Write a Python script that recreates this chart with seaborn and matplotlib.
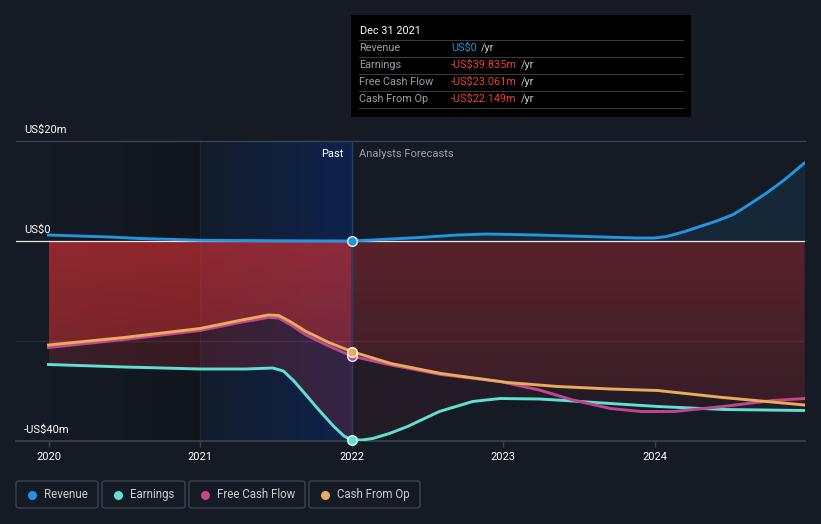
import numpy as np
import pandas as pd
import matplotlib
matplotlib.use("Agg")
import matplotlib.pyplot as plt
import seaborn as sns
from matplotlib.patches import FancyBboxPatch, Rectangle
from matplotlib.lines import Line2D

plt.rcParams['font.family'] = ['Roboto', 'DejaVu Sans']

# ---------------- data (US$ m, decimal years) ----------------
rev_t = [2020.0, 2020.4, 2020.6, 2021.0, 2021.5, 2022.0, 2022.2, 2022.45, 2022.7, 2022.89,
         2023.22, 2023.55, 2023.88, 2024.0, 2024.08, 2024.19, 2024.3, 2024.41, 2024.52,
         2024.63, 2024.74, 2024.86, 2024.99]
rev_v = [1.2, 0.8, 0.5, 0.15, 0.05, 0.0, 0.3, 0.7, 1.2, 1.4,
         1.2, 0.9, 0.6, 0.6, 0.9, 1.8, 2.9, 4.0, 5.3,
         7.4, 9.6, 12.3, 15.6]

earn_t = [2020.0, 2020.5, 2021.0, 2021.3, 2021.48, 2021.55, 2021.62, 2021.70, 2021.77,
          2021.88, 2021.95, 2022.0, 2022.07, 2022.14, 2022.25, 2022.37, 2022.58, 2022.80,
          2022.98, 2023.24, 2023.46, 2023.71, 2024.02, 2024.46, 2024.99]
earn_v = [-24.7, -25.2, -25.6, -25.6, -25.4, -26.0, -28.0, -30.8, -33.3,
          -37.0, -39.0, -39.8, -39.8, -39.5, -38.5, -37.1, -34.1, -32.1,
          -31.5, -31.6, -32.0, -32.5, -33.1, -33.7, -33.9]

fcf_t = [2020.0, 2020.5, 2021.0, 2021.26, 2021.45, 2021.52, 2021.6, 2021.7, 2021.85,
         2022.0, 2022.26, 2022.59, 2022.98, 2023.24, 2023.46, 2023.71, 2023.91,
         2024.13, 2024.45, 2024.78, 2024.99]
fcf_v = [-21.3, -19.7, -17.9, -16.3, -15.3, -15.4, -16.8, -18.8, -21.0,
         -23.0, -24.8, -26.7, -28.1, -29.8, -31.8, -33.5, -34.1,
         -34.1, -33.1, -31.9, -31.5]

cfo_t = [2020.0, 2020.5, 2021.0, 2021.26, 2021.45, 2021.52, 2021.6, 2021.7, 2021.85,
         2022.0, 2022.26, 2022.59, 2023.03, 2023.36, 2023.71, 2024.02, 2024.45, 2024.99]
cfo_v = [-20.8, -19.3, -17.5, -15.9, -14.8, -14.9, -16.2, -18.1, -20.3,
         -22.1, -24.5, -26.5, -28.3, -29.1, -29.6, -29.9, -31.3, -32.8]

year_ticks = [2020, 2021, 2022, 2023, 2024]
year_labels = ["2020", "2021", "2022", "2023", "2024"]
y_labels = [(20, "US$20m"), (0, "US$0"), (-40, "-US$40m")]
legend_names = ["Revenue", "Earnings", "Free Cash Flow", "Cash From Op"]
tip_rows = [("Revenue", "US$0"), ("Earnings", "-US$39.835m"),
            ("Free Cash Flow", "-US$23.061m"), ("Cash From Op", "-US$22.149m")]

# ---------------- style ----------------
BG = '#151b25'
REV, EARN, FCF, CFO = '#2394df', '#5fe0d2', '#c2468e', '#e9ac5b'
RED = (0.84, 0.19, 0.21)
GRID = '#3d434f'
W, H = 821, 524
NOW = 2022.0

def fx(p): return p / W
def fy(p): return 1 - p / H

fig = plt.figure(figsize=(W / 100, H / 100), dpi=100, facecolor=BG)
ax = fig.add_axes([fx(16), fy(441), fx(805) - fx(16), fy(141) - fy(441)])
ax.set_facecolor(BG)
X0 = 2020 + (16 - 48.5) / 151.5
X1 = 2020 + (805 - 48.5) / 151.5

def hgrad(x0, x1, rgb, a0, a1, z):
    arr = np.zeros((1, 256, 4))
    arr[..., :3] = rgb
    arr[0, :, 3] = np.linspace(a0, a1, 256)
    ax.imshow(arr, extent=(x0, x1, -40, 20), origin='upper', aspect='auto',
              zorder=z, interpolation='bilinear')

def vgrad_clip(poly, x0, x1, ytop, ybot, rgb, atop, abot, z):
    arr = np.zeros((256, 1, 4))
    arr[..., :3] = rgb
    arr[:, 0, 3] = np.linspace(atop, abot, 256)
    im = ax.imshow(arr, extent=(x0, x1, ybot, ytop), origin='upper', aspect='auto',
                   zorder=z, interpolation='bilinear')
    im.set_clip_path(poly.get_paths()[0], transform=ax.transData)

# background bands
hgrad(2020.0, 2021.0, (0, 0, 0), 0.0, 0.2, 0.3)
hgrad(2021.0, NOW, (0.03, 0.16, 0.43), 0.08, 0.55, 0.3)
ax.axvline(2021.0, color='#1c2638', lw=0.8, zorder=0.4)

et, ev = np.array(earn_t), np.array(earn_v)
ct, cv = np.array(cfo_t), np.array(cfo_v)
rt, rv = np.array(rev_t), np.array(rev_v)

# earnings area (weak)
pm, fm = et <= NOW, et >= NOW
ax.fill_between(et[pm], 0, ev[pm], color=RED, alpha=0.2, lw=0, zorder=1)
ax.fill_between(et[fm], 0, ev[fm], color=RED, alpha=0.075, lw=0, zorder=1)
# cash from op area (strong gradient)
pm, fm = ct <= NOW, ct >= NOW
p1 = ax.fill_between(ct[pm], 0, cv[pm], facecolor='none', lw=0)
vgrad_clip(p1, 2020.0, NOW, 0, -25, RED, 0.56, 0.38, 1.2)
p2 = ax.fill_between(ct[fm], 0, cv[fm], facecolor='none', lw=0)
vgrad_clip(p2, NOW, X1, 0, -33, RED, 0.31, 0.12, 1.2)
# revenue area (forecast)
fm = rt >= NOW
ax.fill_between(rt[fm], 0, rv[fm], color=REV, alpha=0.1, lw=0, zorder=1)

# grid lines
ax.axhline(20, color=GRID, lw=1, zorder=2, clip_on=False)
ax.axhline(-20, color='white', alpha=0.08, lw=1, zorder=2)
ax.axhline(-40, color=GRID, lw=1.2, zorder=2, clip_on=False)
ax.axhline(0, color='white', alpha=0.9, lw=0.9, zorder=2.5)
ax.axvline(NOW, color='#26406a', lw=1, zorder=2.4)

# lines
sns.lineplot(x=rev_t, y=rev_v, ax=ax, color=REV, lw=2.1, zorder=3)
sns.lineplot(x=earn_t, y=earn_v, ax=ax, color=EARN, lw=2.1, zorder=3)
sns.lineplot(x=fcf_t, y=fcf_v, ax=ax, color=FCF, lw=2.1, zorder=3)
sns.lineplot(x=cfo_t, y=cfo_v, ax=ax, color=CFO, lw=2.1, zorder=3)

# markers at "now"
for t, v, c in [(rev_t, rev_v, REV), (earn_t, earn_v, EARN),
                (fcf_t, fcf_v, FCF), (cfo_t, cfo_v, CFO)]:
    i = t.index(NOW)
    ax.plot([t[i]], [v[i]], 'o', ms=7, mfc=c, mec='white', mew=0.9, zorder=4, clip_on=False)

ax.set_xlim(X0, X1)
ax.set_ylim(-40, 20)
for s in ax.spines.values():
    s.set_visible(False)
ax.set_yticks([])
ax.set_xticks(year_ticks)
ax.set_xticklabels(year_labels, color='white', fontsize=8)
ax.tick_params(axis='x', length=4, width=1, color=GRID, pad=4)
ax.set_xlabel(''); ax.set_ylabel('')

# y labels
for v, s in y_labels:
    yp = 241 - v * 5 - 12
    fig.text(fx(24), fy(yp + 0.5), s, color='white', fontsize=8, va='center', ha='left')

fig.text(fx(343), fy(153.5), "Past", color='white', fontsize=8, va='center', ha='right')
fig.text(fx(359), fy(153.5), "Analysts Forecasts", color='#9aa0a8', fontsize=8, va='center', ha='left')

# tooltip
fig.patches.append(Rectangle((fx(351), fy(117)), fx(691) - fx(351), fy(15) - fy(117),
                             transform=fig.transFigure, facecolor='black', edgecolor='none', zorder=5))
fig.text(fx(360), fy(31), "Dec 31 2021", color='white', fontsize=7.8, va='center', ha='left', zorder=6)
for yy in [40, 57, 74, 91, 108]:
    fig.add_artist(Line2D([fx(359), fx(683)], [fy(yy), fy(yy)], color='#3a3a3a', lw=0.8,
                          transform=fig.transFigure, zorder=6))
val_texts = []
for k, (lab, val) in enumerate(tip_rows):
    yy = 48 + 17 * k
    fig.text(fx(359), fy(yy), lab, color='#9aa0a6', fontsize=7.8, va='center', ha='left', zorder=6)
    col = REV if k == 0 else '#e8403f'
    val_texts.append((fig.text(fx(451), fy(yy), val, color=col, fontsize=7.8, va='center',
                               ha='left', zorder=6), yy))

# legend boxes
boxes = [(16, 98, 32), (102, 185, 118), (189, 305, 205), (309, 420, 325)]
for (x0, x1, dx), name, c in zip(boxes, legend_names, [REV, EARN, FCF, CFO]):
    fig.patches.append(FancyBboxPatch((fx(x0), fy(508)), fx(x1) - fx(x0), fy(481) - fy(508),
                                      boxstyle="round,pad=0,rounding_size=0.004",
                                      transform=fig.transFigure, facecolor='none',
                                      edgecolor=GRID, lw=1))
    fig.add_artist(Line2D([fx(dx)], [fy(494.5)], marker='o', ms=6.5, mfc=c, mec='none',
                          transform=fig.transFigure))
    fig.text(fx(dx + 12), fy(494.5), name, color='#c9ccd1', fontsize=8.3, va='center', ha='left')

fig.canvas.draw()
r = fig.canvas.get_renderer()
for t, yy in val_texts:
    bb = t.get_window_extent(r)
    fig.text((bb.x1 + 4) / W, fy(yy), "/yr", color='#c8c8c8', fontsize=7.8, va='center',
             ha='left', zorder=6)

fig.savefig("out.png", dpi=100, facecolor=BG)
